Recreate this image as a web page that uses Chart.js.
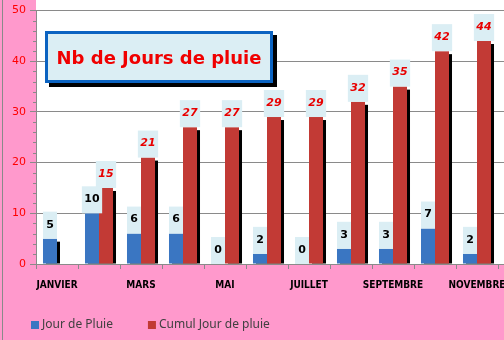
<!DOCTYPE html>
<html>
<head>
<meta charset="utf-8">
<script src="https://cdn.jsdelivr.net/npm/chart.js@4.4.1/dist/chart.umd.min.js"></script>
<style>
  html, body { margin: 0; padding: 0; width: 504px; height: 340px; overflow: hidden; background: #ff99cc; }
  #wrap { position: relative; width: 540px; height: 340px; }
  #title {
    position: absolute; left: 45px; top: 31px; width: 222px; height: 46px;
    border: 3px solid #0b63c1; background: #dbeef4; box-shadow: 4px 4px 0 #000;
    color: #f00000; font: bold 18px "DejaVu Sans", sans-serif;
    display: flex; align-items: center; justify-content: center;
  }
</style>
</head>
<body>
<div id="wrap">
  <canvas id="pluieChart" width="540" height="340"></canvas>
  <div id="title">Nb de Jours de pluie</div>
</div>
<script>
// data (décembre is cut off on the right)
const months = ['JANVIER', 'FEVRIER', 'MARS', 'AVRIL', 'MAI', 'JUIN', 'JUILLET', 'AOUT', 'SEPTEMBRE', 'OCTOBRE', 'NOVEMBRE', 'DECEMBRE'];
const jourPluie = [5, 10, 6, 6, 0, 2, 0, 3, 3, 7, 2, null];
const cumulPluie = [null, 15, 21, 27, 27, 29, 29, 32, 35, 42, 44, null];
const seriesNames = ['Jour de Pluie', 'Cumul Jour de pluie'];
const yMax = 50;
const yStep = 10;
const yMinorStep = 2;

const GRID = '#8a8a8a';

// pink frame, white plot area, minor ticks, legend
const decor = {
    id: 'decor',
    beforeDraw(chart) {
        const { ctx, chartArea: a, width, height } = chart;
        ctx.save();
        ctx.fillStyle = '#ff99cc';
        ctx.fillRect(0, 0, width, height);
        ctx.fillStyle = '#ffffff';
        ctx.fillRect(a.left, 0, width - a.left, a.bottom);
        ctx.strokeStyle = GRID;
        ctx.lineWidth = 1;
        ctx.beginPath();
        ctx.moveTo(2.5, 0);
        ctx.lineTo(2.5, height);
        ctx.stroke();
        ctx.restore();
    },
    afterDraw(chart) {
        const { ctx, chartArea: a } = chart;
        const y = chart.scales.y;
        ctx.save();
        ctx.strokeStyle = GRID;
        ctx.lineWidth = 1;
        ctx.beginPath();
        for (let v = 0; v <= yMax; v += yMinorStep) {
            if (v % yStep === 0) continue;
            const py = Math.round(y.getPixelForValue(v)) + 0.5;
            ctx.moveTo(a.left - 3, py);
            ctx.lineTo(a.left, py);
        }
        ctx.stroke();

        // legend
        ctx.font = '12px "Noto Sans", sans-serif';
        ctx.textBaseline = 'middle';
        let x = 31;
        chart.data.datasets.forEach(ds => {
            ctx.fillStyle = ds.backgroundColor;
            ctx.fillRect(x, 321, 8, 8);
            ctx.fillStyle = '#404040';
            ctx.fillText(ds.label, x + 11, 325);
            x += 11 + ctx.measureText(ds.label).width + 35;
        });
        ctx.restore();
    }
};

// black drop shadow behind every bar
const barShadow = {
    id: 'barShadow',
    beforeDatasetsDraw(chart) {
        const ctx = chart.ctx;
        ctx.save();
        ctx.fillStyle = '#000';
        chart.data.datasets.forEach((ds, i) => {
            chart.getDatasetMeta(i).data.forEach((bar, j) => {
                if (ds.data[j] == null) return;
                const p = bar.getProps(['x', 'y', 'base', 'width'], true);
                if (p.base - p.y <= 3) return;
                ctx.fillRect(p.x - p.width / 2 + 3, p.y + 3, p.width, p.base - p.y - 3);
            });
        });
        ctx.restore();
    }
};

// value labels in light blue boxes above the bars
const valueBoxes = {
    id: 'valueBoxes',
    afterDatasetsDraw(chart) {
        const ctx = chart.ctx;
        ctx.save();
        ctx.textAlign = 'center';
        ctx.textBaseline = 'middle';
        chart.data.datasets.forEach((ds, i) => {
            ctx.font = i === 0 ? 'bold 11px "DejaVu Sans", sans-serif' : 'italic bold 11px "DejaVu Sans", sans-serif';
            chart.getDatasetMeta(i).data.forEach((bar, j) => {
                const v = ds.data[j];
                if (v == null) return;
                const p = bar.getProps(['x', 'y', 'width'], true);
                const txt = String(v);
                const w = Math.max(p.width, ctx.measureText(txt).width + 5);
                ctx.fillStyle = '#dbeef4';
                ctx.fillRect(p.x - w / 2, p.y - 27, w, 27);
                ctx.fillStyle = i === 0 ? '#000' : '#e80000';
                ctx.fillText(txt, p.x, p.y - 14);
            });
        });
        ctx.restore();
    }
};

new Chart(document.getElementById('pluieChart'), {
    type: 'bar',
    data: {
        labels: months,
        datasets: [{
            label: seriesNames[0],
            data: jourPluie,
            backgroundColor: '#3a76c2'
        }, {
            label: seriesNames[1],
            data: cumulPluie,
            backgroundColor: '#c23a35'
        }]
    },
    options: {
        responsive: false,
        animation: false,
        layout: { padding: { top: 10, left: 0, right: 0, bottom: 0 } },
        datasets: { bar: { categoryPercentage: 0.667, barPercentage: 1 } },
        plugins: {
            legend: { display: false },
            tooltip: { enabled: false }
        },
        scales: {
            x: {
                grid: { offset: true, drawOnChartArea: false, tickLength: 5, color: GRID },
                border: { color: GRID },
                ticks: {
                    autoSkip: false,
                    maxRotation: 0,
                    padding: 10,
                    color: '#000',
                    font: { family: '"DejaVu Sans Condensed", sans-serif', size: 10, weight: 'bold' },
                    callback: (v, i) => (i % 2 ? '' : months[i])
                },
                afterFit(s) { s.height = 76; }
            },
            y: {
                min: 0,
                max: yMax,
                grid: { tickLength: 6, color: GRID },
                border: { color: GRID },
                ticks: {
                    stepSize: yStep,
                    padding: 4,
                    color: '#ff0000',
                    font: { family: '"DejaVu Sans", sans-serif', size: 11 }
                },
                afterFit(s) { s.width = 36; }
            }
        }
    },
    plugins: [decor, barShadow, valueBoxes]
});
</script>
</body>
</html>
